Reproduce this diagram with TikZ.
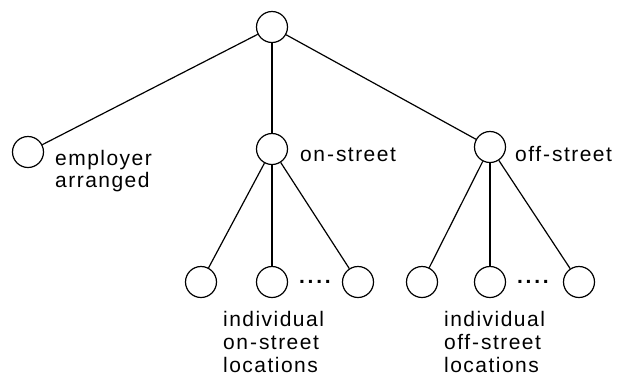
\documentclass[tikz,border=0pt]{standalone}
\usepackage{fontspec}
\newfontfamily\labfont[LetterSpace=7]{Liberation Sans}
\newcommand{\hy}{\kern2pt-\kern2pt}
\begin{document}
\begin{tikzpicture}[x=1pt,y=-1pt,
  nd/.style={draw,circle,minimum size=31pt,inner sep=0pt,line width=1.2pt},
  lab/.style={anchor=base west,inner sep=0pt,font=\labfont\fontsize{21}{23}\selectfont},
  edge/.style={line width=1.2pt}]
\useasboundingbox (0,0) rectangle (624,376);
% nodes
\node[nd] (root) at (272,27) {};
\node[nd] (emp) at (28,152) {};
\node[nd] (on) at (272,149) {};
\node[nd] (off) at (490,147) {};
\node[nd] (a1) at (201,282) {};
\node[nd] (a2) at (272,282) {};
\node[nd] (a3) at (358,282) {};
\node[nd] (b1) at (422,282) {};
\node[nd] (b2) at (490,282) {};
\node[nd] (b3) at (579,282) {};
% connectors
\draw[edge] (root) -- (emp);
\draw[edge] (root) -- (on);
\draw[edge] (root) -- (off);
\draw[edge] (on) -- (a1);
\draw[edge] (on) -- (a2);
\draw[edge] (on) -- (a3);
\draw[edge] (off) -- (b1);
\draw[edge] (off) -- (b2);
\draw[edge] (off) -- (b3);
% labels
\node[lab] (empl1) at (55,165) {employer};
\node[lab] (empl2) at (55,187) {arranged};
\node[lab] (onl) at (300,161) {on\hy street};
\node[lab] (offl) at (515,161) {off\hy street};
\node[lab] (dotsa) at (299,283) {\bfseries .\kern2.7pt.\kern2.7pt.\kern2.7pt.};
\node[lab] (dotsb) at (517,283) {\bfseries .\kern2.7pt.\kern2.7pt.\kern2.7pt.};
\node[lab] (al1) at (223,326) {individual};
\node[lab] (al2) at (223,349) {on\hy street};
\node[lab] (al3) at (223,372) {locations};
\node[lab] (bl1) at (444,326) {individual};
\node[lab] (bl2) at (444,349) {off\hy street};
\node[lab] (bl3) at (444,372) {locations};
\end{tikzpicture}
\end{document}
